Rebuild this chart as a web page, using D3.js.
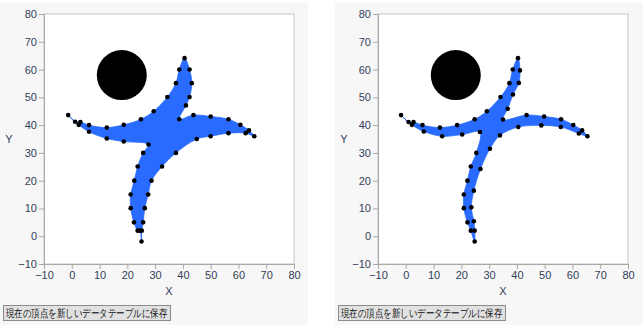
<!DOCTYPE html>
<html><head><meta charset="utf-8">
<script src="https://cdn.jsdelivr.net/npm/d3@7/dist/d3.min.js"></script>
<style>
html,body{margin:0;padding:0;background:#fff;}
svg{display:block;}
text{font-family:"Liberation Sans","DejaVu Sans",sans-serif;}
</style></head>
<body>
<svg id="c" width="643" height="329"></svg>
<script>
// ---- data ----
const xTicks = [-10,0,10,20,30,40,50,60,70,80];
const yTicks = [-10,0,10,20,30,40,50,60,70,80];
const buttonLabel = "現在の頂点を新しいデータテーブルに保存";
const circleCenter = [18, 58];
const circleRadius = 9;
// panel 1 vertices (polygon order)
const verticesLeft = [
  [40.6,64.1],[42.4,60],[43.2,55.1],[42.4,50.1],[41.1,47.1],[38.7,42.1],
  [43.8,43.6],[50,43.1],[56.4,42.1],[60.7,40.1],[63.8,38.1],[65.7,36],
  [62.6,37.1],[56.4,37.1],[50,36],[45,35],[37.5,30],
  [32.5,25.1],[28.7,20],[27.5,15],[26.3,10.1],[25.7,5],[25.2,2],[25.1,-1.9],
  [24.5,2],[23.7,2],[22.4,5],[21.2,10.1],[21.2,15],[22.5,20],[23.7,25.1],[25.7,30],[27.6,33],
  [18.7,34.1],[12.6,35.2],[6.2,37.6],[2.5,40.1],[-1.3,43.6],
  [1.2,41.2],[3.1,41.1],[6.2,40],[12.6,39.1],[18.7,40.1],[24.9,42.1],[29.5,45],[34.4,50.1],[37.5,55.1],[38.7,60]
];
// panel 2 vertices (polygon order)
const verticesRight = [
  [40.4,64.1],[41.1,59.7],[40.7,55.2],[38.6,51],[36.7,45.9],[35,42],
  [43.5,43.6],[49.8,43.1],[55.9,42.1],[60.3,40],[63.5,38.1],[65.4,36],
  [62.3,37],[55.8,39.3],[48.8,39.9],[40.5,39.3],[33.9,36.3],
  [30.3,31.5],[26.9,24.2],[24.5,16.4],[23.6,10.4],[24.5,5.4],[24.8,2],[24.8,-1.9],
  [23.4,2],[22.2,5],[20.9,10.1],[20.9,15],[22.2,20],[23.4,25.1],[25.4,30],[26.7,37.5],
  [20.3,36.6],[13.1,36],[6.5,37.7],[2.2,40.1],[-1.7,43.6],
  [1,41.1],[2.8,41.1],[6,40],[12.3,39.1],[18.5,40],[24.8,42.1],[29.2,45],[34.1,50.1],[37.3,55.1],[38.5,60]
];

const svg = d3.select("#c");
const textColor = "#33405a";

function drawPanel(panelX, plotX, verts){
  const g = svg.append("g");
  g.append("rect").attr("x",panelX).attr("y",2).attr("width",308).attr("height",323).attr("fill","#f7f7f7");
  const W = 250, H = 250, top = 14;
  const x = d3.scaleLinear().domain([-10,80]).range([plotX, plotX+W]);
  const y = d3.scaleLinear().domain([-10,80]).range([top+H, top]);
  g.append("rect").attr("x",plotX).attr("y",top).attr("width",W).attr("height",H)
    .attr("fill","#fff").attr("stroke","#c4c4c4").attr("stroke-width",1);
  // axes
  const xa = g.append("g").attr("transform",`translate(0,${top+H})`)
    .call(d3.axisBottom(x).tickValues(xTicks).tickSize(5).tickPadding(2).tickFormat(d3.format("d")));
  const ya = g.append("g").attr("transform",`translate(${plotX},0)`)
    .call(d3.axisLeft(y).tickValues(yTicks).tickSize(5).tickPadding(2).tickFormat(d3.format("d")));
  [xa,ya].forEach(a=>{
    a.select(".domain").attr("stroke","#a8a8a8");
    a.selectAll(".tick line").attr("stroke","#a8a8a8");
    a.selectAll(".tick text").attr("fill",textColor).attr("font-size","11px")
      .attr("font-family","'Liberation Sans','DejaVu Sans',sans-serif");
  });
  g.append("text").attr("x",plotX+W/2).attr("y",295).attr("text-anchor","middle")
    .attr("fill",textColor).attr("font-size","11px").text("X");
  g.append("text").attr("x",panelX+9).attr("y",143).attr("text-anchor","middle")
    .attr("fill",textColor).attr("font-size","11px").text("Y");
  // circle
  g.append("ellipse").attr("cx",x(circleCenter[0])).attr("cy",y(circleCenter[1]))
    .attr("rx",x(circleRadius)-x(0)).attr("ry",y(0)-y(circleRadius)).attr("fill","#000");
  // shape
  const line = d3.line().x(d=>x(d[0])).y(d=>y(d[1])).curve(d3.curveCatmullRomClosed.alpha(0.5));
  g.append("path").attr("d",line(verts)).attr("fill","#2a6bff").attr("stroke","#2a6bff").attr("stroke-width",0.8);
  g.selectAll("circle.v").data(verts).join("circle").attr("class","v")
    .attr("cx",d=>x(d[0])).attr("cy",d=>y(d[1])).attr("r",2.3).attr("fill","#000");
  // button
  g.append("rect").attr("x",panelX+3.5).attr("y",305.5).attr("width",167).attr("height",15)
    .attr("fill","#e1e1e1").attr("stroke","#8c8c8c");
  g.append("text").attr("x",panelX+6).attr("y",317).attr("fill","#111")
    .attr("font-family","'Noto Sans CJK JP',sans-serif").attr("font-size","10.5px")
    .attr("textLength",161).attr("lengthAdjust","spacingAndGlyphs").text(buttonLabel);
}
drawPanel(0, 44, verticesLeft);
drawPanel(335, 378, verticesRight);
</script>
</body></html>
